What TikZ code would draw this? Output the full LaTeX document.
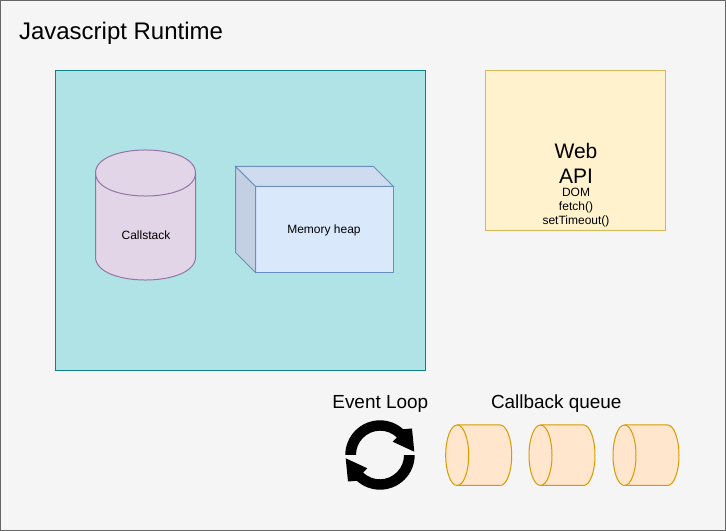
\documentclass[tikz,border=0pt]{standalone}
\usepackage{fontspec}
\setmainfont{Liberation Sans}
\definecolor{bgfill}{HTML}{F5F5F5}
\definecolor{bgline}{HTML}{666666}
\definecolor{tealfill}{HTML}{B0E3E6}
\definecolor{tealline}{HTML}{0E8088}
\definecolor{purplefill}{HTML}{E1D5E7}
\definecolor{purpleline}{HTML}{9673A6}
\definecolor{bluefill}{HTML}{DAE8FC}
\definecolor{blueline}{HTML}{6C8EBF}
\definecolor{bluetop}{HTML}{CFDCEF}
\definecolor{blueside}{HTML}{C3CFE2}
\definecolor{yellowfill}{HTML}{FFF2CC}
\definecolor{yellowline}{HTML}{D6B656}
\definecolor{orangefill}{HTML}{FFE6CC}
\definecolor{orangeline}{HTML}{D79B00}
\tikzset{
  x=0.75pt,y=-0.75pt,
  every node/.style={inner sep=0pt,outer sep=0pt,text=black},
  box/.style={line width=0.75pt,line join=miter},
  purpleshape/.style={box,draw=purpleline,fill=purplefill},
  blueshape/.style={box,draw=blueline},
  orangeshape/.style={box,draw=orangeline,fill=orangefill},
  bigtext/.style={font=\fontsize{18}{21}\selectfont},
  midtext/.style={font=\fontsize{14.2}{17}\selectfont},
  smalltext/.style={font=\fontsize{9}{11}\selectfont},
}
% queue cylinder: #1 = left x
\newcommand{\queuecyl}[1]{%
  \begin{scope}[shift={(#1,425)}]
    \path[orangeshape] (11.5,0) -- (54.5,0)
      arc[start angle=270,end angle=450,x radius=11.5,y radius=30.25] -- (11.5,60.5)
      arc[start angle=90,end angle=270,x radius=11.5,y radius=30.25] -- cycle;
    \path[orangeshape,fill=none] (11.5,0)
      arc[start angle=270,end angle=450,x radius=11.5,y radius=30.25];
  \end{scope}}
\begin{document}
\begin{tikzpicture}
\useasboundingbox (0,0) rectangle (726,531);
\draw[box,draw=bgline,fill=bgfill] (0.5,0.5) rectangle (725.5,530.5);
\node[bigtext,anchor=base west] (title) at (19,40) {Javascript Runtime};
\draw[box,draw=tealline,fill=tealfill] (55.5,70.5) rectangle (425.5,370.5);
% Callstack
\path[purpleshape] (95.5,173) .. controls (95.5,142.3) and (195.5,142.3) .. (195.5,173) -- (195.5,257)
  .. controls (195.5,287.7) and (95.5,287.7) .. (95.5,257) -- cycle;
\path[purpleshape,fill=none] (95.5,173) .. controls (95.5,203.7) and (195.5,203.7) .. (195.5,173);
\node[smalltext] (callstack) at (146,235) {Callstack};
% Memory heap
\path[blueshape,fill=bluefill] (255.5,186.5) rectangle (393.5,272.5);
\path[blueshape,fill=bluetop] (235.5,166.5) -- (373.5,166.5) -- (393.5,186.5) -- (255.5,186.5) -- cycle;
\path[blueshape,fill=blueside] (235.5,166.5) -- (255.5,186.5) -- (255.5,272.5) -- (235.5,252.5) -- cycle;
\node[smalltext] (heap) at (324,230) {Memory heap};
% Web API
\node[box,draw=yellowline,fill=yellowfill,minimum width=135pt,minimum height=120pt,anchor=north west] (webbox) at (485.5,70.5) {};
\node[anchor=north,text width=120pt] (webtext) at (576,143) {\centering
  \fontsize{15.75}{18.75}\selectfont Web\\API\par\nobreak\vskip-0.3pt
  \fontsize{9}{10.5}\selectfont DOM\\fetch()\\setTimeout()\par};
% Labels
\node[midtext,anchor=base] (eventloop) at (380.3,409) {Event Loop};
\node[midtext,anchor=base] (callback) at (556.3,409) {Callback queue};
% Loop icon
\begin{scope}[shift={(380,455)}]
  \foreach \r in {0,180}{
    \fill[black,rotate=\r] (180:34.7) arc[start angle=180,end angle=312,radius=34.7]
      -- (32,-26.5) -- (34.3,-3.3) -- (12.7,-13.3) -- (17,-17.5)
      arc[start angle=314,end angle=180,radius=24.2] -- cycle;
  }
\end{scope}
% Queue
\queuecyl{445.7}
\queuecyl{529}
\queuecyl{613}
\end{tikzpicture}
\end{document}
